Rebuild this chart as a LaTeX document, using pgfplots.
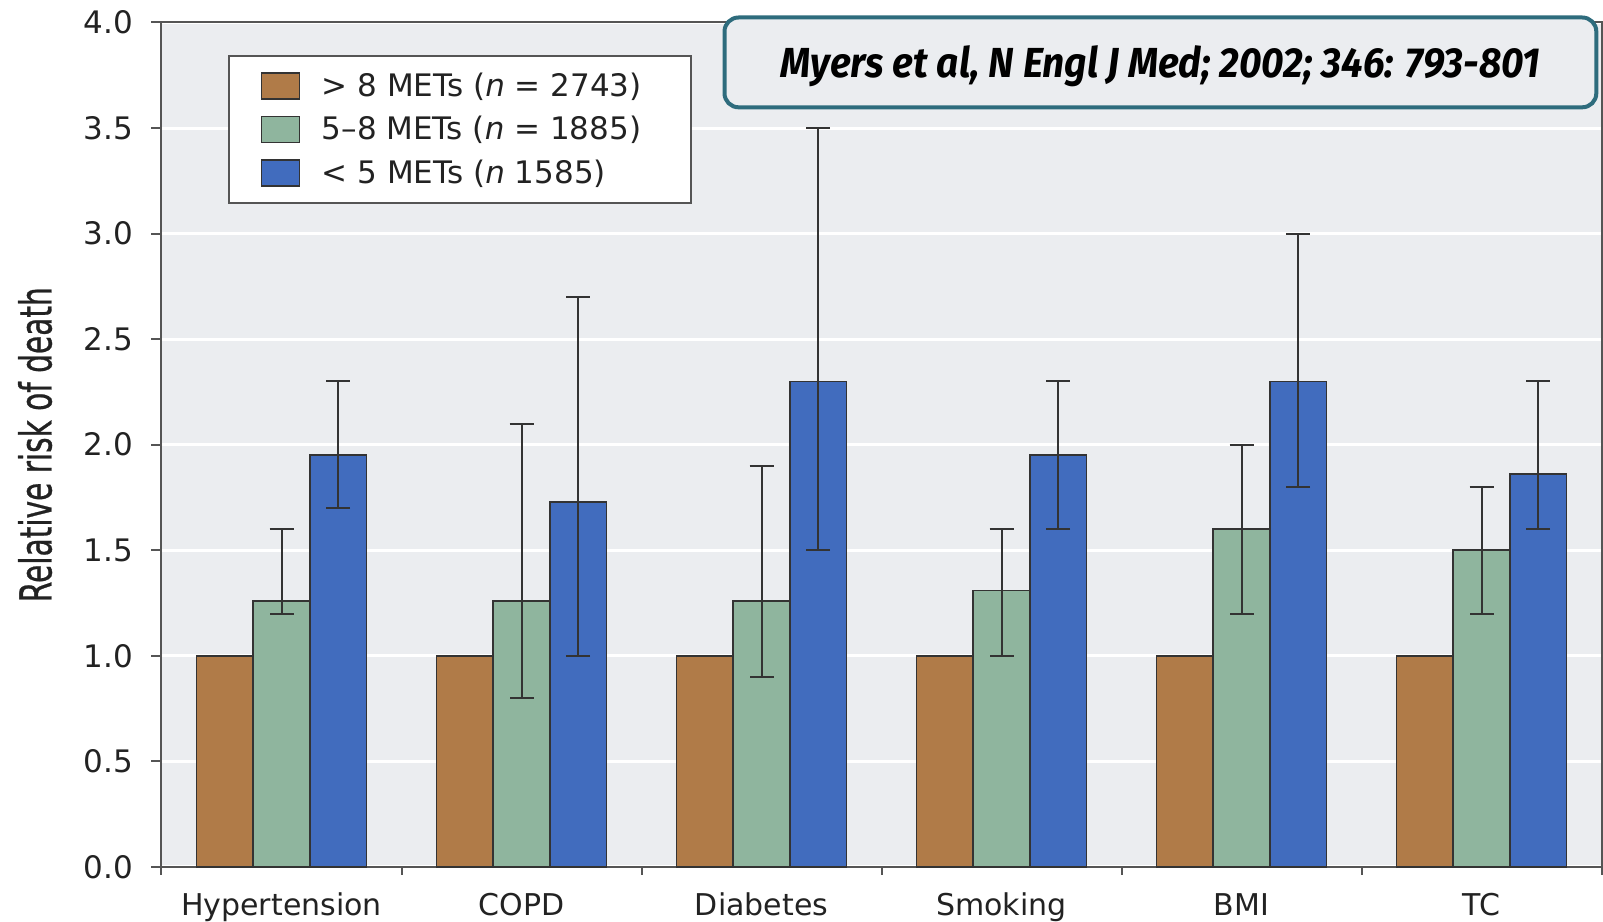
\documentclass[border=0pt]{standalone}
\usepackage{fontspec}
\setmainfont{DejaVu Sans}
\newfontfamily\citefont{Fira Sans}
\newfontfamily\ylfont[FakeBold=0.8]{DejaVu Sans}
\usepackage{graphicx}
\usepackage{pgfplots}
\pgfplotsset{compat=1.18}

\definecolor{cbrown}{HTML}{B07B48}
\definecolor{cgreen}{HTML}{8FB59E}
\definecolor{cblue}{HTML}{416CBE}
\definecolor{bgc}{HTML}{EBEDF0}
\definecolor{cteal}{HTML}{2E6C7D}
\definecolor{axc}{HTML}{555555}
\definecolor{txt}{HTML}{222222}

\newcommand{\legtxt}[1]{\makebox[168.5pt][l]{#1}}

\begin{document}
\begin{tikzpicture}
\begin{axis}[name=ax,
  scale only axis, width=720pt, height=422.2pt,
  xmin=-0.5, xmax=5.5, ymin=0, ymax=4,
  clip=false,
  axis background/.style={fill=bgc},
  axis line style={draw=axc, line width=1pt},
  ybar, bar width=0.236,
  xtick={0,...,5},
  xticklabels={Hypertension,COPD,Diabetes,Smoking,BMI,TC},
  minor xtick={-0.5,0.5,...,5.5},
  major x tick style={draw=none},
  minor x tick style={draw=axc, line width=1pt},
  ytick={0,0.5,...,4},
  ytick style={draw=axc, line width=1pt},
  tick align=outside, tick pos=left,
  major tick length=5pt, minor tick length=4pt,
  ymajorgrids, major grid style={white, line width=1.5pt},
  ticklabel style={font=\fontsize{15.5}{18}\selectfont, text=txt},
  /pgf/number format/assume math mode=true,
  yticklabel style={/pgf/number format/fixed, /pgf/number format/fixed zerofill,
    /pgf/number format/precision=1, anchor=east, inner sep=0pt, xshift=-9pt},
  xticklabel style={anchor=base, yshift=-19.25pt, font=\fontsize{15}{18}\selectfont},
  ylabel={\resizebox{157.5pt}{\height}{\ylfont\fontsize{22}{26}\selectfont Relative risk of death}},
  ylabel style={at={(axis description cs:-0.0878,0.5)}, anchor=center, text=txt},
  legend cell align=left,
  legend style={at={(0.0462,0.9613)}, anchor=north west, draw=axc, line width=1pt,
    fill=white, inner xsep=15.85pt, inner ysep=8pt, row sep=8pt,
    font=\fontsize{15.5}{18}\selectfont, text=txt,
    nodes={inner sep=0pt}},
]
\addplot[fill=cbrown, draw=black!80, line width=0.8pt, bar shift=-0.236,
  legend image code/.code={\draw[fill=cbrown, draw=black!80, line width=0.8pt] (0pt,-6.5pt) rectangle (19pt,6.5pt); \path (29.75pt,0pt);}]
  coordinates {(0,1) (1,1) (2,1) (3,1) (4,1) (5,1)};
\addplot[fill=cgreen, draw=black!80, line width=0.8pt, bar shift=0,
  legend image code/.code={\draw[fill=cgreen, draw=black!80, line width=0.8pt] (0pt,-6.5pt) rectangle (19pt,6.5pt); \path (29.75pt,0pt);},
  error bars/.cd, y dir=both, y explicit,
  error bar style={line width=1pt, draw=black!80},
  error mark options={rotate=90, line width=1pt, mark size=6pt, draw=black!80}]
  coordinates {
  (0,1.26) += (0,0.34) -= (0,0.06)
  (1,1.26) += (0,0.84) -= (0,0.46)
  (2,1.26) += (0,0.64) -= (0,0.36)
  (3,1.31) += (0,0.29) -= (0,0.31)
  (4,1.60) += (0,0.40) -= (0,0.40)
  (5,1.50) += (0,0.30) -= (0,0.30)
  };
\addplot[fill=cblue, draw=black!80, line width=0.8pt, bar shift=0.236,
  legend image code/.code={\draw[fill=cblue, draw=black!80, line width=0.8pt] (0pt,-6.5pt) rectangle (19pt,6.5pt); \path (29.75pt,0pt);},
  error bars/.cd, y dir=both, y explicit,
  error bar style={line width=1pt, draw=black!80},
  error mark options={rotate=90, line width=1pt, mark size=6pt, draw=black!80}]
  coordinates {
  (0,1.95) += (0,0.35) -= (0,0.25)
  (1,1.73) += (0,0.97) -= (0,0.73)
  (2,2.30) += (0,1.20) -= (0,0.80)
  (3,1.95) += (0,0.35) -= (0,0.35)
  (4,2.30) += (0,0.70) -= (0,0.50)
  (5,1.86) += (0,0.44) -= (0,0.26)
  };
\legend{\legtxt{> 8 METs (\textit{n} = 2743)}, \legtxt{5--8 METs (\textit{n} = 1885)}, \legtxt{< 5 METs (\textit{n} 1585)}}
\end{axis}
\draw[cteal, line width=2pt, rounded corners=7pt, fill=bgc]
  ([shift={(281.5pt,379.8pt)}]ax.south west) rectangle ([shift={(717.4pt,424.7pt)}]ax.south west);
\node[text=black, inner sep=0pt] at ([shift={(499.5pt,400.3pt)}]ax.south west)
  {\resizebox{380pt}{\height}{\citefont\bfseries\itshape\fontsize{21}{24}\selectfont Myers et al, N Engl J Med; 2002; 346: 793-801}};
\pgfresetboundingbox
\path ([shift={(-80.75pt,-27.5pt)}]ax.south west) rectangle ([shift={(0.75pt,11.25pt)}]ax.north east);
\end{tikzpicture}
\end{document}
